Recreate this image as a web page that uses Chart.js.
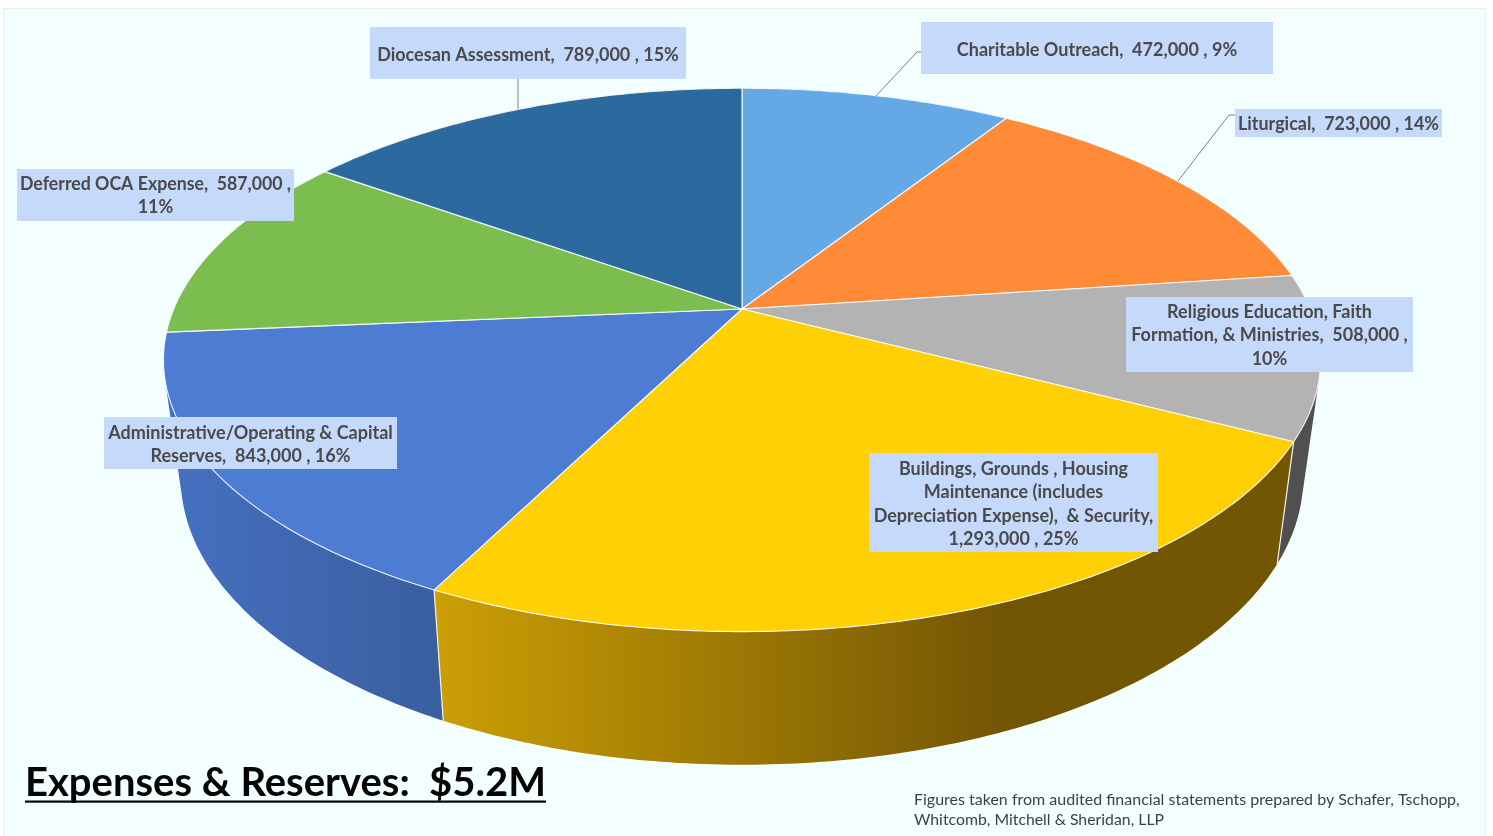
<!DOCTYPE html>
<html><head><meta charset="utf-8">
<style>html,body{margin:0;padding:0;background:#fff;overflow:hidden}canvas{display:block}</style>
<script src="https://cdn.jsdelivr.net/npm/chart.js@4"></script>
</head><body>
<canvas id="c" width="1493" height="836" style="width:1493px;height:836px"></canvas>
<script>
const categories=["Charitable Outreach","Liturgical","Religious Education, Faith Formation, & Ministries","Buildings, Grounds , Housing Maintenance (includes Depreciation Expense), & Security","Administrative/Operating & Capital Reserves","Deferred OCA Expense","Diocesan Assessment"];
const values=[472000,723000,508000,1293000,843000,587000,789000];
const labelLines=[
 ["Charitable Outreach,  472,000 , 9%"],
 ["Liturgical,  723,000 , 14%"],
 ["Religious Education, Faith","Formation, & Ministries,  508,000 ,","10%"],
 ["Buildings, Grounds , Housing","Maintenance (includes","Depreciation Expense),  & Security,","1,293,000 , 25%"],
 ["Administrative/Operating & Capital","Reserves,  843,000 , 16%"],
 ["Deferred OCA Expense,  587,000 ,","11%"],
 ["Diocesan Assessment,  789,000 , 15%"]];
const titleText="Expenses & Reserves:  $5.2M";
const noteLines=["Figures taken from audited financial statements prepared by Schafer, Tschopp,","Whitcomb, Mitchell & Sheridan, LLP"];

const topColors=["#64A8E6","#FF8A38","#B3B3B3","#FFD006","#4D7DD3","#7CBD50","#2C699F"];
const wallColors=[["#3E6E9C","#3E6E9C"],["#A85A24","#A85A24"],["#505050","#505050"],["#CC9F05","#735604"],["#456FBF","#3A5F9F"],["#51803A","#51803A"],["#1E4869","#1E4869"]];
const wallGrad=[[0,1],[0,1],[1280,1320],[435,1000],[180,443],[0,1],[0,1]];
const boxes=[[921,22,352,52],[1235,109,207,28],[1126,297,287,75],[869,453,289,99],[104,417,293,52],[17,169,277,52],[370,27,316,52]];
const firstLine=[50,124,312,469,433,184,55];
const lineGap=23.5;
const leaders=[[[876,96],[917,52],[921,52]],[[1178,181],[1229,115],[1235,115]],null,null,null,null,[[518,109],[518,79]]];
const LABEL_FONT='bold 18px Lato';

const P=0.1875;
function topPt(arc,ang){
  const R=arc.outerRadius,x=Math.cos(ang),y=Math.sin(ang),w=1-P*y;
  return [arc.x+R*1.845*x/w, arc.y+R*0.851*y/w];
}
function botPt(arc,ang){
  const R=arc.outerRadius,x=Math.cos(ang),y=Math.sin(ang),w=1-P*y;
  return [arc.x+R*1.79*x/w, arc.y+R*0.372+R*0.9*y/w];
}
function arcPts(fn,arc,a0,a1,n){
  const pts=[];for(let i=0;i<=n;i++)pts.push(fn(arc,a0+(a1-a0)*i/n));return pts;
}
function addQuad(c,q){
  let s=0;
  for(let i=0;i<4;i++){const a=q[i],b=q[(i+1)%4];s+=a[0]*b[1]-b[0]*a[1];}
  const o=s<0?q.slice().reverse():q;
  c.moveTo(...o[0]);c.lineTo(...o[1]);c.lineTo(...o[2]);c.lineTo(...o[3]);c.closePath();
}

const pie3d={
 id:'pie3d',
 beforeDraw(chart){
  const c=chart.ctx;
  c.save();c.fillStyle='#fff';c.fillRect(0,0,chart.width,chart.height);
  c.fillStyle='#F3FFFF';c.fillRect(3,8,1483,828);
  c.strokeStyle='#E9EEEE';c.lineWidth=1;c.strokeRect(3.5,8.5,1482,830);
  c.restore();
 },
 beforeDatasetsDraw(chart){
  const c=chart.ctx,arcs=chart.getDatasetMeta(0).data;
  c.save();
  // side walls: consistently wound quads in one path, so no seams and no cancelled overlap
  arcs.forEach((arc,i)=>{
    const n=Math.max(10,Math.round((arc.endAngle-arc.startAngle)*80));
    const t=arcPts(topPt,arc,arc.startAngle,arc.endAngle,n),b=arcPts(botPt,arc,arc.startAngle,arc.endAngle,n);
    const g=c.createLinearGradient(wallGrad[i][0],0,wallGrad[i][1],0);
    g.addColorStop(0,wallColors[i][0]);g.addColorStop(1,wallColors[i][1]);
    c.fillStyle=g;
    c.beginPath();
    for(let k=0;k<n;k++) addQuad(c,[t[k],t[k+1],b[k+1],b[k]]);
    c.fill('nonzero');
  });
  // wall dividers
  c.strokeStyle='#F4F4EE';c.lineWidth=1.2;
  arcs.forEach(arc=>{
    c.beginPath();c.moveTo(...topPt(arc,arc.startAngle));c.lineTo(...botPt(arc,arc.startAngle));c.stroke();
  });
  // top faces
  arcs.forEach((arc,i)=>{
    const n=Math.max(10,Math.round((arc.endAngle-arc.startAngle)*80));
    const t=arcPts(topPt,arc,arc.startAngle,arc.endAngle,n);
    c.beginPath();c.moveTo(arc.x,arc.y);t.forEach(p=>c.lineTo(...p));c.closePath();
    c.fillStyle=topColors[i];c.fill();
    c.strokeStyle='rgba(255,255,255,0.9)';c.lineWidth=1.1;c.lineJoin='round';c.stroke();
  });
  c.restore();
  return false;
 },
 afterDraw(chart){
  const c=chart.ctx;
  c.save();
  // leaders
  c.strokeStyle='#7F7F7F';c.lineWidth=1;
  leaders.forEach(l=>{ if(!l)return; c.beginPath();c.moveTo(...l[0]);l.slice(1).forEach(p=>c.lineTo(...p));c.stroke();});
  // label boxes
  c.textAlign='center';c.textBaseline='middle';
  boxes.forEach((b,i)=>{
    c.fillStyle='#C5D9FB';c.fillRect(...b);
    c.fillStyle='#4A4A4A';c.font=LABEL_FONT;
    labelLines[i].forEach((s,k)=>{
      c.fillText(s,b[0]+b[2]/2,firstLine[i]+k*lineGap,b[2]-6);
    });
  });
  // title
  c.textAlign='left';c.textBaseline='alphabetic';
  c.fillStyle='#050505';c.font='bold 40px Lato';
  c.fillText(titleText,25,796,521);
  c.fillRect(25,800.5,521,2.2);
  // note
  c.fillStyle='#3F3F3F';c.font='16px Lato';
  c.fillText(noteLines[0],914,805,547);
  c.fillText(noteLines[1],914,825,250);
  c.restore();
 }
};

new Chart(document.getElementById('c'),{
 type:'pie',
 data:{labels:categories,datasets:[{data:values,backgroundColor:topColors,borderColor:'#fff'}]},
 options:{
  responsive:false,animation:false,events:[],rotation:0,
  layout:{padding:{left:0,right:9,top:0,bottom:218}},
  plugins:{legend:{display:false},tooltip:{enabled:false},title:{display:false}}
 },
 plugins:[pie3d]
});
</script>
</body></html>
